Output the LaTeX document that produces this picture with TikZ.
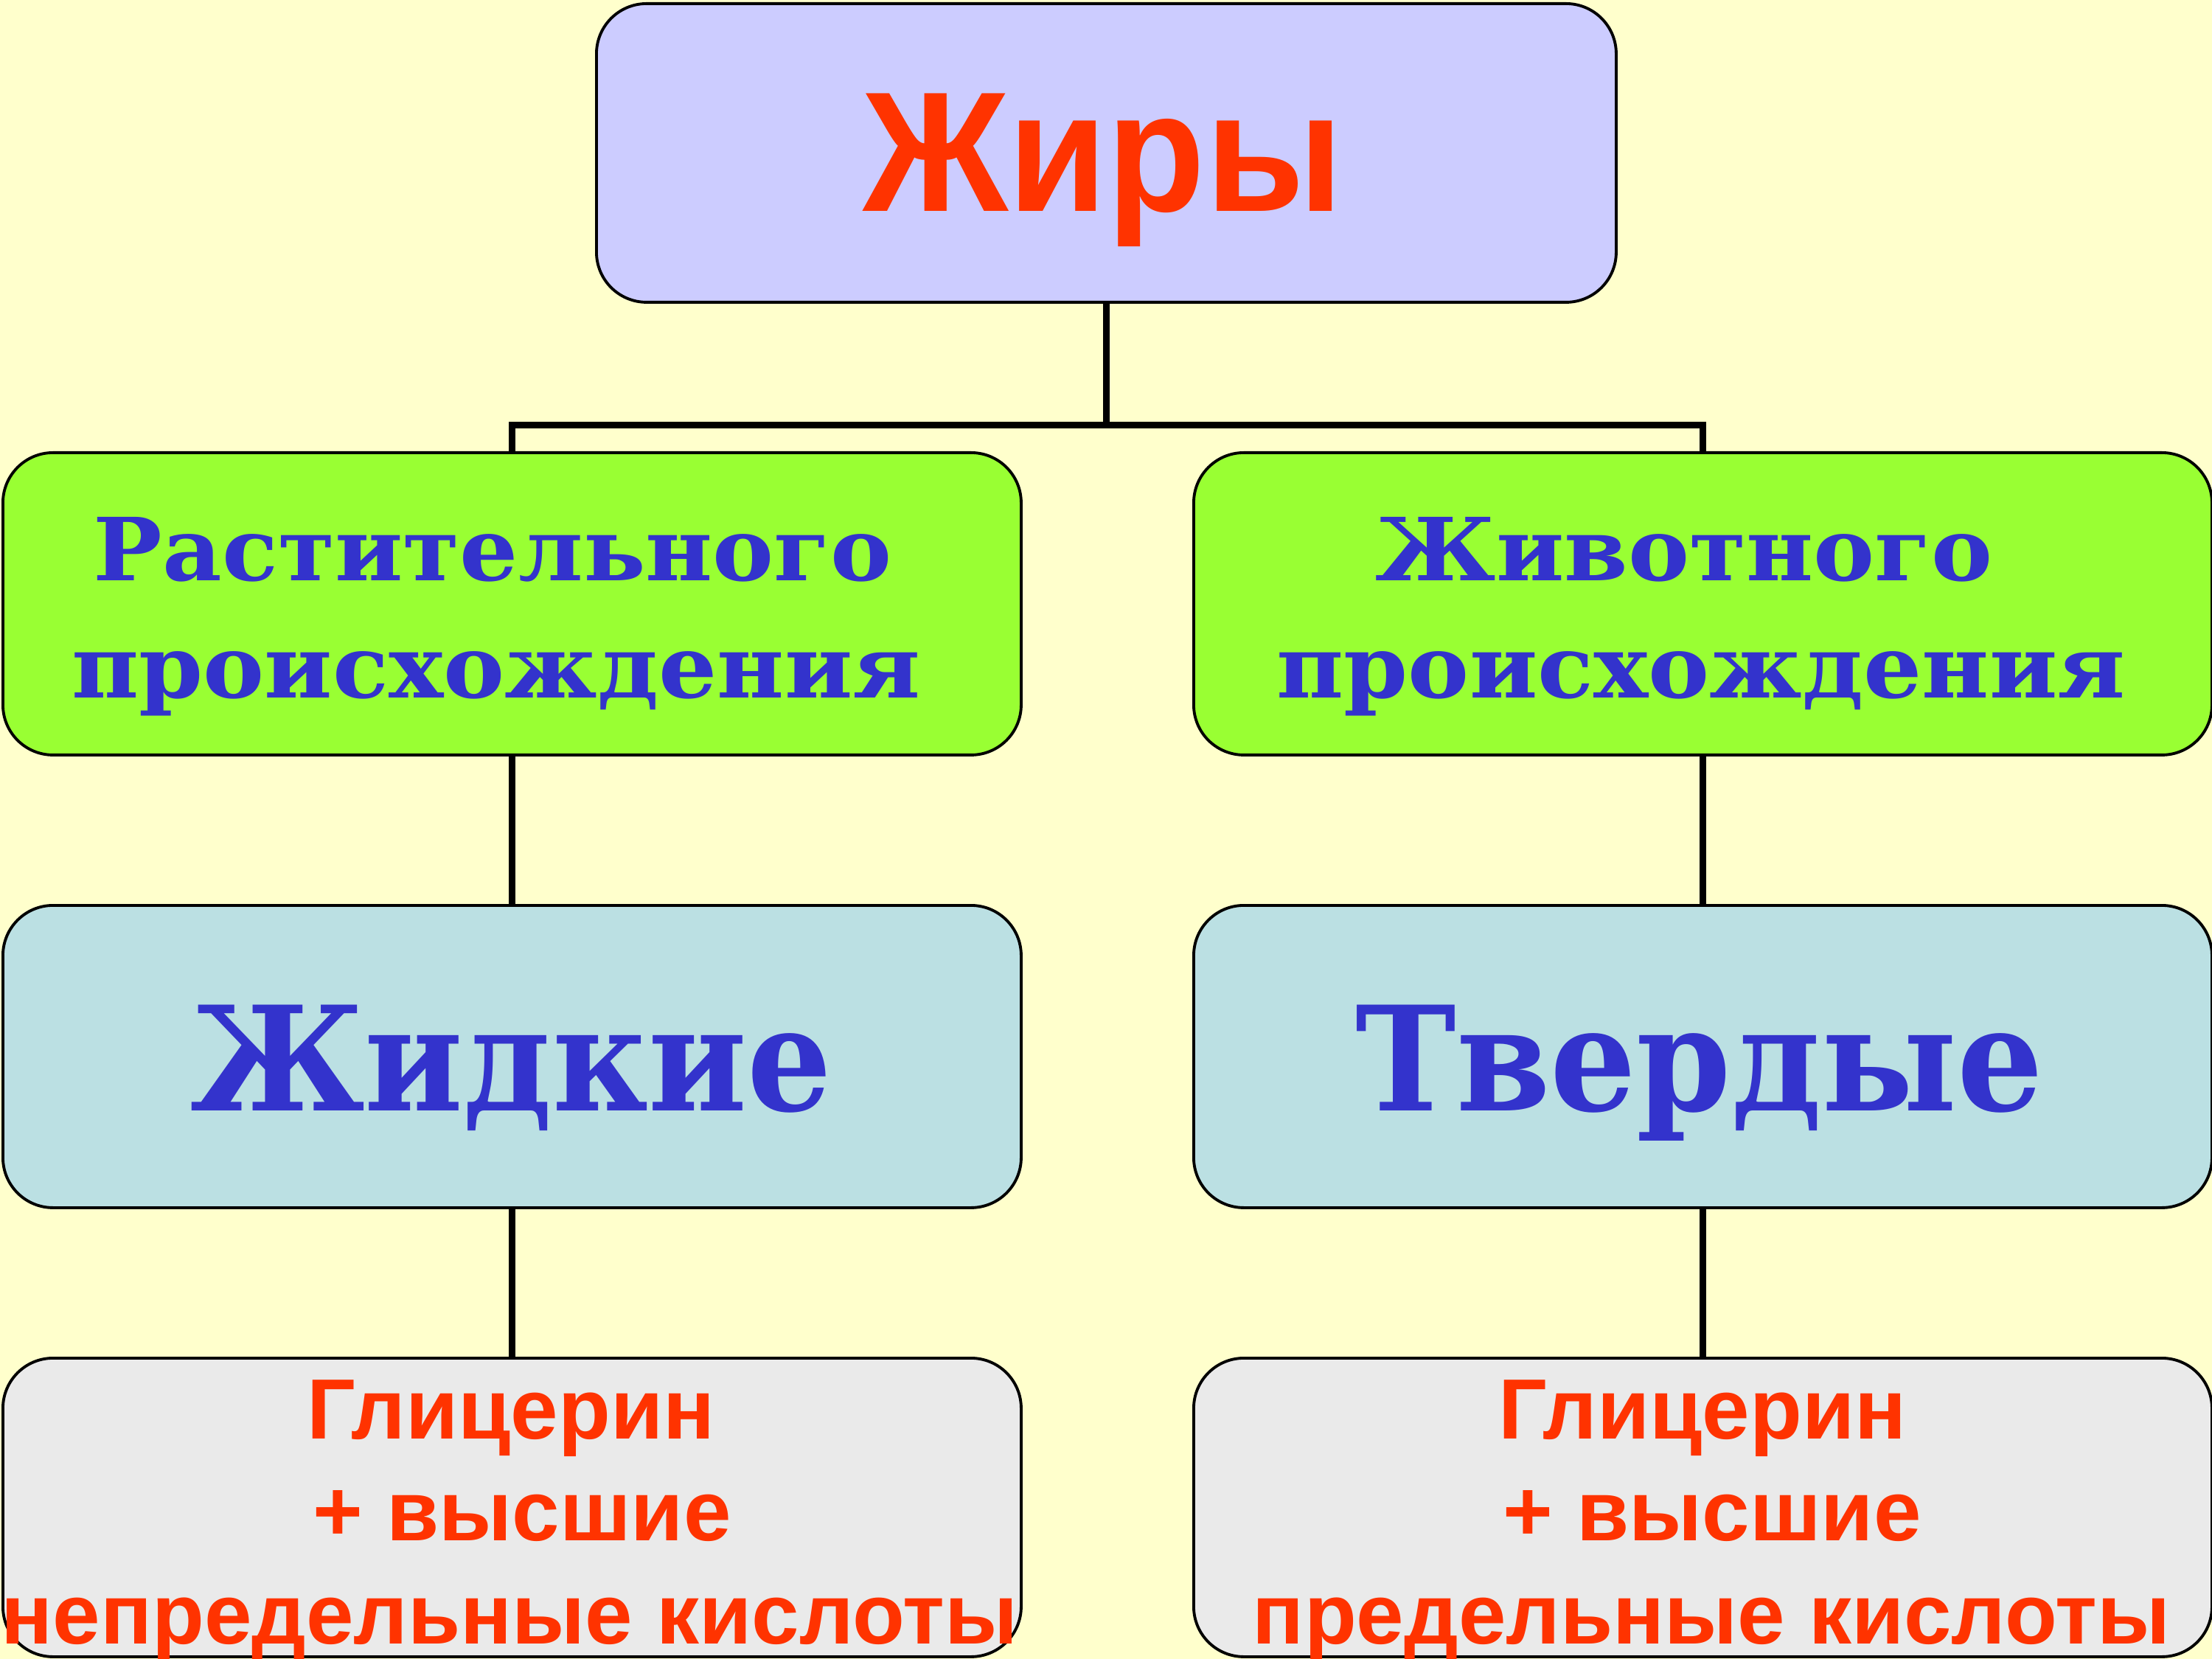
\documentclass[tikz,border=0pt]{standalone}
\usepackage{fontspec}
\setmainfont{Liberation Sans}
\newfontfamily\slabfont{DejaVu Serif}
\definecolor{bgc}{HTML}{FFFFCC}
\definecolor{topc}{HTML}{CCCCFF}
\definecolor{greenc}{HTML}{99FF33}
\definecolor{bluec}{HTML}{BBE0E3}
\definecolor{greyc}{HTML}{EAEAEA}
\definecolor{bluet}{HTML}{3333CC}
\definecolor{redt}{HTML}{FF3300}
\begin{document}
\begin{tikzpicture}[
  box/.style={draw=black, line width=1.1pt, rounded corners=0.68cm, minimum width=13.81cm, minimum height=4.1cm, inner sep=0pt, anchor=north west},
  link/.style={line width=2.4pt},
  barline/.style={line width=2.5pt},
  bigred/.style={anchor=base, text=redt, inner sep=0pt, font=\fontsize{66}{70}\selectfont\bfseries},
  slabmid/.style={anchor=base, text=bluet, inner sep=0pt, font=\slabfont\fontsize{33.6}{40}\selectfont\bfseries},
  slabbig/.style={anchor=base, text=bluet, inner sep=0pt, font=\slabfont\fontsize{56}{60}\selectfont\bfseries},
  redsmall/.style={anchor=base, text=redt, inner sep=0pt, font=\fontsize{33}{38}\selectfont\bfseries}
]
\fill[bgc] (0,0) rectangle (30,-22.5);
\useasboundingbox (0,0) rectangle (30,-22.5);

% boxes
\node[box, fill=topc, minimum width=13.83cm, minimum height=4.05cm] (top) at (8.07,-0.03) {};
\node[box, fill=greenc] (gl) at (0.02,-6.12) {};
\node[box, fill=greenc] (gr) at (16.17,-6.12) {};
\node[box, fill=bluec] (bl) at (0.02,-12.26) {};
\node[box, fill=bluec] (br) at (16.17,-12.26) {};
\node[box, fill=greyc, minimum height=4.05cm] (yl) at (0.02,-18.40) {};
\node[box, fill=greyc, minimum height=4.05cm] (yr) at (16.17,-18.40) {};

% connectors
\coordinate (jn) at (14.99,-5.765);
\draw[link] (top.south) -- (top.south |- jn);
\draw[barline, line cap=rect] (gl.north |- jn) -- (gr.north |- jn);
\draw[link] (gl.north |- jn) -- (gl.north);
\draw[link] (gr.north |- jn) -- (gr.north);
\draw[link] (gl.south) -- (bl.north);
\draw[link] (gr.south) -- (br.north);
\draw[link] (bl.south) -- (yl.north);
\draw[link] (br.south) -- (yr.north);

% texts
\node[bigred] (t0) at (14.96,-2.87) {\scalebox{0.94}[1]{Жиры}};
\node[slabmid] (t1a) at (6.68,-7.88) {\scalebox{1.055}[1]{Растительного}};
\node[slabmid] (t1b) at (6.73,-9.47) {\scalebox{1.055}[1]{происхождения}};
\node[slabmid] (t2a) at (22.84,-7.88) {\scalebox{1.055}[1]{Животного}};
\node[slabmid] (t2b) at (23.07,-9.47) {\scalebox{1.055}[1]{происхождения}};
\node[slabbig] (t3) at (6.93,-15.06) {\scalebox{0.917}[1]{Жидкие}};
\node[slabbig] (t4) at (23.05,-15.06) {\scalebox{0.933}[1]{Твердые}};
\node[redsmall] (t5a) at (6.93,-19.51) {Глицерин};
\node[redsmall] (t5b) at (7.08,-20.89) {+ высшие};
\node[redsmall] (t5c) at (6.91,-22.29) {непредельные кислоты};
\node[redsmall] (t6a) at (23.09,-19.51) {Глицерин};
\node[redsmall] (t6b) at (23.22,-20.89) {+ высшие};
\node[redsmall] (t6c) at (23.21,-22.29) {предельные кислоты};
\end{tikzpicture}
\end{document}
